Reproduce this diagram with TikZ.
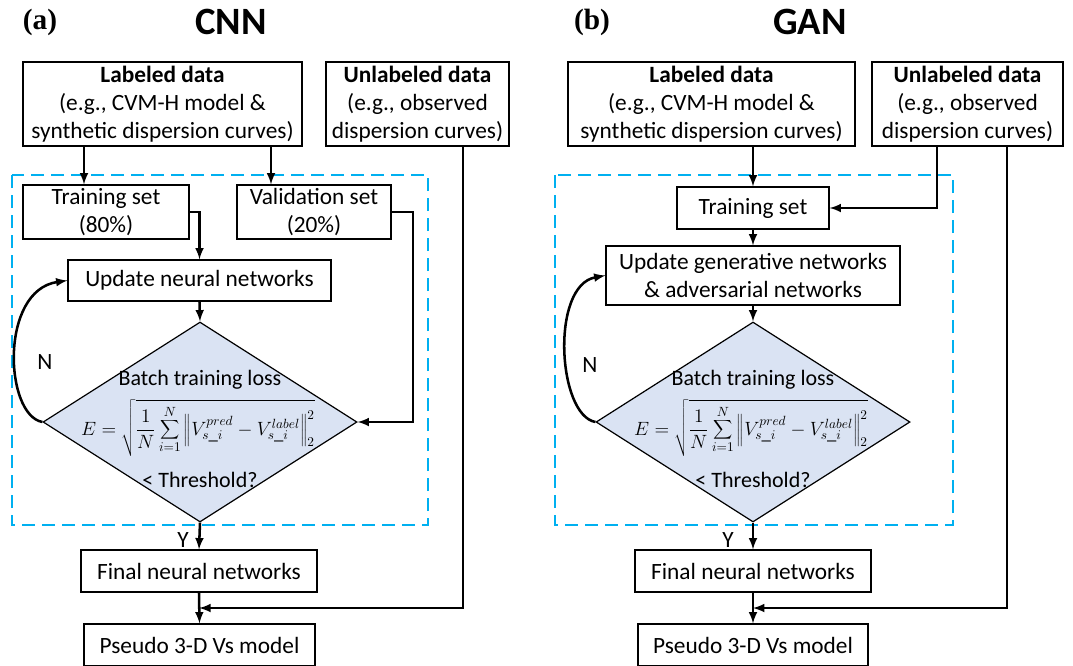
\documentclass[tikz,border=0pt]{standalone}
\usepackage{fontspec}
\setmainfont{Carlito}
\newfontfamily\tagfont{Liberation Serif}
\usetikzlibrary{shapes.geometric,calc}
\definecolor{dashblue}{RGB}{0,176,240}
\definecolor{decfill}{RGB}{218,227,243}

\begin{document}
\begin{tikzpicture}[x=0.75pt,y=-0.75pt,
	box/.style={draw,line width=0.9pt,align=center,inner sep=0pt,font=\fontsize{17.5}{21}\selectfont},
	decbox/.style={draw,line width=0.9pt,diamond,fill=decfill,inner sep=0pt,minimum width=235.5pt,minimum height=150pt},
	conn/.style={line width=1.9pt,-latex},
	loopbox/.style={draw=dashblue,line width=2pt,dash pattern=on 10pt off 5pt},
	txt/.style={font=\fontsize{17.5}{21}\selectfont},
	dectxt/.style={inner sep=0pt,font=\fontsize{16.5}{20}\selectfont},
	frm/.style={inner sep=0pt,font=\fontsize{14}{16}\selectfont},
	panel/.style={font=\tagfont\bfseries\fontsize{22}{26}\selectfont},
	title/.style={font=\bfseries\fontsize{29}{34}\selectfont}]
	\useasboundingbox (0,0) rectangle (1073,665);
	% (a) CNN
	\node[panel] (tagA) at (40,22) {(a)};
	\node[title] (ttlA) at (231,22) {CNN};
	\draw[loopbox] (12,175) rectangle (428,525);
	\node[box,minimum width=209.25pt,minimum height=63pt] (labA) at (162.5,104) {\textbf{Labeled data}\\(e.g., CVM-H model \&\\synthetic dispersion curves)};
	\node[box,minimum width=137.25pt,minimum height=63pt] (unlA) at (417.5,104) {\textbf{Unlabeled data}\\(e.g., observed\\dispersion curves)};
	\node[box,minimum width=124.5pt,minimum height=40.5pt] (trnA) at (106,212) {Training set\\(80\%)};
	\node[box,minimum width=115.5pt,minimum height=40.5pt] (valA) at (314,212) {Validation set\\(20\%)};
	\node[box,minimum width=197.25pt,minimum height=30.75pt] (updA) at (199.5,280.5) {Update neural networks};
	\node[decbox] (decA) at (200,422) {};
	\node[dectxt] (lossA) at (200,380) {Batch training loss};
	\node[frm] (frmA) at (198,428) {$\displaystyle E=\sqrt{\frac{1}{N}\sum_{i=1}^{N}\left\|V_{s\_i}^{pred}-V_{s\_i}^{label}\right\|_2^2}$};
	\node[dectxt] (thrA) at (200,480) {< Threshold?};
	\node[box,minimum width=177pt,minimum height=31.5pt] (finA) at (199,571) {Final neural networks};
	\node[box,minimum width=173.25pt,minimum height=31.5pt] (psdA) at (199.5,645) {Pseudo 3-D Vs model};
	\coordinate (ca1) at (84,0);
	\coordinate (ca2) at (271,0);
	\coordinate (ca3) at (413,0);
	\coordinate (ca4) at (463,0);
	\coordinate (mrgA) at ($(finA.south)!0.5!(psdA.north)$);
	\draw[conn] (labA.south -| ca1) -- (trnA.north -| ca1);
	\draw[conn] (labA.south -| ca2) -- (valA.north -| ca2);
	\draw[conn] (trnA.east) -| (updA.north);
	\draw[conn] (valA.east) -- (valA.east -| ca3) |- (decA.east);
	\draw[conn] (updA.south) -- (decA.north);
	\draw[conn] (decA.west) .. controls +(-38,-7) and +(-68,10) .. (updA.west);
	\node[txt] (nA) at (45,362) {N};
	\draw[conn] (decA.south) -- (finA.north);
	\node[txt] (yA) at (183,540) {Y};
	\draw[conn] (finA.south) -- (psdA.north);
	\draw[conn] (unlA.south -| ca4) |- (mrgA);
	% (b) GAN
	\node[panel] (tagB) at (592,22) {(b)};
	\node[title] (ttlB) at (810,22) {GAN};
	\draw[loopbox] (555,175) rectangle (953,525);
	\node[box,minimum width=215.25pt,minimum height=63pt] (labB) at (711.5,104) {\textbf{Labeled data}\\(e.g., CVM-H model \&\\synthetic dispersion curves)};
	\node[box,minimum width=143.25pt,minimum height=63pt] (unlB) at (967.5,104) {\textbf{Unlabeled data}\\(e.g., observed\\dispersion curves)};
	\node[box,minimum width=114pt,minimum height=31.5pt] (trnB) at (753,208) {Training set};
	\node[box,minimum width=220.5pt,minimum height=44.25pt] (updB) at (753,275.5) {Update generative networks\\\& adversarial networks};
	\node[decbox] (decB) at (753,422) {};
	\node[dectxt] (lossB) at (753,380) {Batch training loss};
	\node[frm] (frmB) at (751,428) {$\displaystyle E=\sqrt{\frac{1}{N}\sum_{i=1}^{N}\left\|V_{s\_i}^{pred}-V_{s\_i}^{label}\right\|_2^2}$};
	\node[dectxt] (thrB) at (753,480) {< Threshold?};
	\node[box,minimum width=177pt,minimum height=31.5pt] (finB) at (753,571) {Final neural networks};
	\node[box,minimum width=172.5pt,minimum height=31.5pt] (psdB) at (753,645) {Pseudo 3-D Vs model};
	\coordinate (cb1) at (937,0);
	\coordinate (cb2) at (1007,0);
	\coordinate (mrgB) at ($(finB.south)!0.5!(psdB.north)$);
	\draw[conn] (labB.south -| trnB.north) -- (trnB.north);
	\draw[conn] (unlB.south -| cb1) |- (trnB.east);
	\draw[conn] (trnB.south) -- (updB.north);
	\draw[conn] (updB.south) -- (decB.north);
	\draw[conn] (decB.west) .. controls +(-38,-7) and +(-55,10) .. (updB.west);
	\node[txt] (nB) at (590,365) {N};
	\draw[conn] (decB.south) -- (finB.north);
	\node[txt] (yB) at (728,540) {Y};
	\draw[conn] (finB.south) -- (psdB.north);
	\draw[conn] (unlB.south -| cb2) |- (mrgB);
\end{tikzpicture}
\end{document}
